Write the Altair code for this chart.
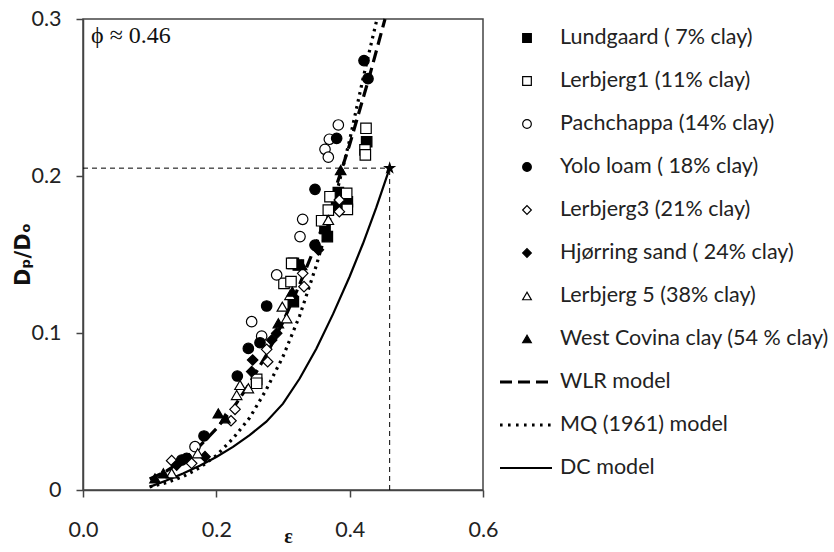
import altair as alt
import pandas as pd

# ---------------- data ----------------
soils = ["Lundgaard ( 7% clay)", "Lerbjerg1 (11% clay)", "Pachchappa (14% clay)",
         "Yolo loam ( 18% clay)", "Lerbjerg3 (21% clay)", "Hjørring sand ( 24% clay)",
         "Lerbjerg 5 (38% clay)", "West Covina clay (54 % clay)"]
shapes = ["square", "square", "circle", "circle", "diamond", "diamond", "triangle-up", "triangle-up"]
fills = ["black", "white", "white", "black", "white", "black", "white", "black"]

lund_x = [0.4255, 0.383, 0.3965, 0.3805, 0.363, 0.3665, 0.3155, 0.323, 0.3155]
lund_y = [0.2218, 0.1894, 0.1836, 0.1805, 0.1667, 0.1614, 0.1444, 0.1433, 0.120]

ler1_x = [0.4245, 0.423, 0.4235, 0.3955, 0.3705, 0.3965, 0.368, 0.358, 0.313, 0.3015, 0.312, 0.2605, 0.2605]
ler1_y = [0.2304, 0.2166, 0.2135, 0.189, 0.1868, 0.1788, 0.1783, 0.1715, 0.1444, 0.1316, 0.1327, 0.0705, 0.068]

pach_x = [0.383, 0.3695, 0.363, 0.368, 0.3295, 0.3255, 0.2905, 0.253, 0.268, 0.168]
pach_y = [0.2325, 0.2234, 0.217, 0.212, 0.1724, 0.1614, 0.137, 0.1072, 0.098, 0.0276]

yolo_x = [0.4215, 0.4275, 0.3805, 0.348, 0.348, 0.2755, 0.2655, 0.248, 0.2315, 0.1815, 0.148, 0.1555]
yolo_y = [0.2735, 0.262, 0.224, 0.1915, 0.156, 0.1172, 0.0938, 0.0902, 0.0726, 0.0344, 0.0191, 0.0202]

ler3_x = [0.3845, 0.3845, 0.3295, 0.3315, 0.2755, 0.277, 0.228, 0.222, 0.163, 0.133]
ler3_y = [0.1847, 0.1773, 0.138, 0.1295, 0.0896, 0.0817, 0.0514, 0.0441, 0.017, 0.0187]

hjor_x = [0.353, 0.2905, 0.283, 0.2545, 0.253, 0.183, 0.1405]
hjor_y = [0.153, 0.0998, 0.0955, 0.0828, 0.0754, 0.0212, 0.0159]

ler5_x = [0.368, 0.3105, 0.299, 0.3055, 0.2355, 0.248, 0.2305, 0.172, 0.133]
ler5_y = [0.172, 0.1242, 0.1168, 0.1094, 0.0669, 0.0648, 0.0605, 0.0234, 0.0106]

wcov_x = [0.3865, 0.328, 0.314, 0.293, 0.203, 0.213, 0.1205, 0.108]
wcov_y = [0.2038, 0.1433, 0.1263, 0.1062, 0.0488, 0.0457, 0.0106, 0.0074]

models = ["WLR model", "MQ (1961) model", "DC model"]
wlr_x = [0.10, 0.125, 0.15, 0.175, 0.20, 0.225, 0.25, 0.275, 0.30, 0.325, 0.35, 0.375, 0.40, 0.415, 0.43, 0.453]
wlr_y = [0.007, 0.012, 0.019, 0.028, 0.039, 0.052, 0.068, 0.086, 0.107, 0.131, 0.157, 0.187, 0.220, 0.242, 0.264, 0.300]

mq_x = [0.10, 0.125, 0.15, 0.175, 0.20, 0.225, 0.25, 0.275, 0.30, 0.325, 0.35, 0.375, 0.40, 0.42, 0.441]
mq_y = [0.002, 0.0046, 0.0085, 0.0142, 0.022, 0.0328, 0.046, 0.064, 0.085, 0.111, 0.143, 0.180, 0.223, 0.262, 0.300]

dc_x = [0.10, 0.125, 0.15, 0.175, 0.20, 0.225, 0.25, 0.275, 0.30, 0.325, 0.35, 0.375, 0.40, 0.42, 0.44, 0.46]
dc_y = [0.002, 0.006, 0.0105, 0.0155, 0.021, 0.0275, 0.035, 0.0435, 0.055, 0.071, 0.090, 0.112, 0.136, 0.157, 0.180, 0.205]

ref_x = [0.46]
ref_y = [0.205]
annotation = ["ϕ ≈ 0.46"]

x_ticks = [0.0, 0.2, 0.4, 0.6]
y_ticks = [0.0, 0.1, 0.2, 0.3]

# ---------------- tables ----------------
series = [(lund_x, lund_y), (ler1_x, ler1_y), (pach_x, pach_y), (yolo_x, yolo_y),
          (ler3_x, ler3_y), (hjor_x, hjor_y), (ler5_x, ler5_y), (wcov_x, wcov_y)]
rows = []
for i, (xs, ys) in enumerate(series):
    for xv, yv in zip(xs, ys):
        rows.append({"soil": soils[i], "x": xv, "y": yv})
pts = pd.DataFrame(rows)

wlr = pd.DataFrame({"x": wlr_x, "y": wlr_y})
mq = pd.DataFrame({"x": mq_x, "y": mq_y})
dc = pd.DataFrame({"x": dc_x, "y": dc_y})
ref = pd.DataFrame({"x": ref_x, "y": ref_y, "x0": [0.0], "y0": [0.0]})

leg_pts = pd.DataFrame({"soil": soils, "row": list(range(len(soils)))})
leg_labels = pd.DataFrame({"label": soils + models, "row": list(range(len(soils) + len(models)))})

FONT = "Lato"
FS = 21.5
STAR = ("M0,-1 L0.2245,-0.309 L0.951,-0.309 L0.3633,0.118 L0.5878,0.809 L0,0.382 "
        "L-0.5878,0.809 L-0.3633,0.118 L-0.951,-0.309 L-0.2245,-0.309 Z")
xscale = alt.Scale(domain=[0, 0.6], nice=False)
yscale = alt.Scale(domain=[0, 0.3], nice=False)
shape_scale = alt.Scale(domain=soils, range=shapes)
fill_scale = alt.Scale(domain=soils, range=fills)
rowscale = alt.Scale(domain=[0, 10], range=[19, 449])

xaxis = alt.Axis(values=x_ticks, format=".1f", grid=False, title="ε",
                 titleFont="Liberation Serif", titleFontSize=20, titleFontWeight="bold",
                 titleColor="#111", titleX=205, titleY=46, titleBaseline="middle",
                 labelFont=FONT, labelFontSize=FS, labelColor="#222", labelPadding=22,
                 tickSize=7, tickColor="#444", domainColor="#444", domainWidth=1.5,
                 tickWidth=1.5, labelFlush=False)
yaxis = alt.Axis(values=y_ticks, grid=False, title="Dₚ/Dₒ",
                 labelExpr="datum.value == 0 ? '0' : format(datum.value, '.1f')",
                 titleFont="DejaVu Sans", titleFontSize=21, titleFontWeight="bold",
                 titleColor="#111", titleX=-60, titleY=235, titleAngle=-90,
                 titleAlign="center", titleBaseline="middle",
                 labelFont=FONT, labelFontSize=FS, labelColor="#222", labelPadding=15,
                 tickSize=7, tickColor="#444", domainColor="#444", domainWidth=1.5,
                 tickWidth=1.5, labelFlush=False)

X = alt.X("x:Q", scale=xscale)
Y = alt.Y("y:Q", scale=yscale)

points = alt.Chart(pts).mark_point(filled=True, stroke="black", strokeWidth=1.2, size=110,
                                   opacity=1).encode(
    x=alt.X("x:Q", scale=xscale, axis=xaxis),
    y=alt.Y("y:Q", scale=yscale, axis=yaxis),
    shape=alt.Shape("soil:N", scale=shape_scale, legend=None),
    fill=alt.Fill("soil:N", scale=fill_scale, legend=None),
)

wlr_line = alt.Chart(wlr).mark_line(color="black", strokeWidth=3.2, strokeDash=[12, 6]).encode(x=X, y=Y)
mq_line = alt.Chart(mq).mark_line(color="black", strokeWidth=3.2, strokeDash=[2.6, 4.6]).encode(x=X, y=Y)
dc_line = alt.Chart(dc).mark_line(color="black", strokeWidth=2.2).encode(x=X, y=Y)

hline = alt.Chart(ref).mark_rule(color="black", strokeWidth=1, strokeDash=[5, 4]).encode(
    x=alt.X("x0:Q", scale=xscale), x2="x:Q", y=Y)
vline = alt.Chart(ref).mark_rule(color="black", strokeWidth=1, strokeDash=[5, 4]).encode(
    x=X, y=alt.Y("y0:Q", scale=yscale), y2="y:Q")
star = alt.Chart(ref).mark_point(shape=STAR, filled=True, color="black", size=190, opacity=1).encode(
    x=X, y=Y)

phi = alt.Chart(pd.DataFrame({"t": annotation})).mark_text(
    font="Liberation Serif", fontSize=24, align="left", baseline="middle", color="#111"
).encode(x=alt.value(8), y=alt.value(17), text="t:N")

main = alt.layer(wlr_line, mq_line, dc_line, hline, vline, points, star, phi)

# ---- legend drawn from legend tables ----
RY = alt.Y("row:Q", scale=rowscale, axis=None)
leg_sym = alt.Chart(leg_pts).mark_point(filled=True, stroke="black", strokeWidth=1.2, size=75,
                                        opacity=1).encode(
    x=alt.value(444), y=RY,
    shape=alt.Shape("soil:N", scale=shape_scale, legend=None),
    fill=alt.Fill("soil:N", scale=fill_scale, legend=None),
)
leg_wlr = alt.Chart(leg_labels).transform_filter(alt.datum.label == models[0]).mark_rule(
    color="black", strokeWidth=3.2, strokeDash=[12, 6]).encode(x=alt.value(417), x2=alt.value(469), y=RY)
leg_mq = alt.Chart(leg_labels).transform_filter(alt.datum.label == models[1]).mark_rule(
    color="black", strokeWidth=3, strokeDash=[2.6, 5.4]).encode(x=alt.value(417), x2=alt.value(469), y=RY)
leg_dc = alt.Chart(leg_labels).transform_filter(alt.datum.label == models[2]).mark_rule(
    color="black", strokeWidth=2.2).encode(x=alt.value(417), x2=alt.value(469), y=RY)
leg_txt = alt.Chart(leg_labels).mark_text(font=FONT, fontSize=FS, color="#222", align="left",
                                          baseline="middle").encode(
    x=alt.value(477), y=RY, text="label:N")

legend = alt.layer(leg_sym, leg_wlr, leg_mq, leg_dc, leg_txt)

chart = alt.layer(main, legend).resolve_scale(y="independent").properties(
    width=400, height=471,
    background="white",
    autosize=alt.AutoSizeParams(type="none"),
    padding={"left": 83, "top": 19, "right": 351, "bottom": 62},
).configure_view(stroke="#444", strokeWidth=1.5)

chart.save("out.html", embed_options={"renderer": "svg", "actions": False})
